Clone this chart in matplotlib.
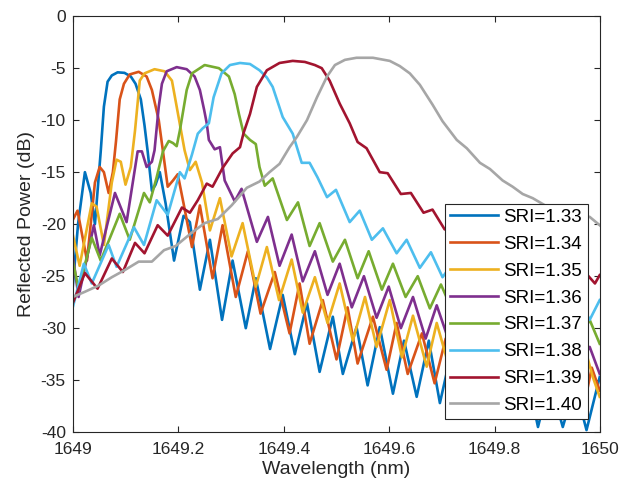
import numpy as np
import matplotlib
matplotlib.use('Agg')
import matplotlib.pyplot as plt

plt.rcParams['font.family'] = ['Liberation Sans', 'DejaVu Sans']
plt.rcParams['axes.unicode_minus'] = False

BASE = 1649.0  # wavelength offsets below are in nm above 1649

# SRI = 1.33
wl_133 = [0.000, 0.010, 0.023, 0.034, 0.042, 0.053, 0.059, 0.066, 0.074, 0.085,
          0.098, 0.110, 0.119, 0.129, 0.136, 0.142, 0.150, 0.157, 0.165, 0.176,
          0.192, 0.210, 0.222, 0.241, 0.260, 0.283, 0.303, 0.328, 0.347, 0.374,
          0.398, 0.421, 0.444, 0.468, 0.493, 0.512, 0.538, 0.559, 0.582, 0.607,
          0.628, 0.652, 0.675, 0.696, 0.719, 0.743, 0.766, 0.791, 0.813, 0.836,
          0.859, 0.882, 0.904, 0.929, 0.952, 0.974, 0.999]
db_133 = [-26, -20, -15, -17, -20, -13, -8.7, -6.3, -5.7, -5.4,
          -5.45, -5.8, -6.5, -8, -10.5, -13, -16.8, -16.2, -15, -18,
          -23.5, -19.2, -19.8, -26.3, -21.5, -29.2, -23.5, -30, -25.2, -32,
          -26.8, -32.5, -27.6, -34.2, -28.9, -34.4, -29.9, -35.5, -29.9, -36.3,
          -31.2, -36.6, -31.2, -37.2, -32, -37.8, -33, -38.5, -33.5, -38.6,
          -34, -39.5, -35, -39.5, -35.5, -39.8, -34.7]

# SRI = 1.34
wl_134 = [0.000, 0.009, 0.027, 0.042, 0.051, 0.059, 0.068, 0.076, 0.082, 0.089,
          0.097, 0.108, 0.125, 0.140, 0.150, 0.163, 0.171, 0.180, 0.190, 0.199,
          0.210, 0.226, 0.241, 0.265, 0.284, 0.309, 0.332, 0.356, 0.383, 0.411,
          0.430, 0.449, 0.474, 0.500, 0.521, 0.540, 0.569, 0.595, 0.614, 0.635,
          0.662, 0.686, 0.707, 0.734, 0.756, 0.781, 0.804, 0.828, 0.851, 0.876,
          0.899, 0.923, 0.946, 0.969, 0.984, 0.999]
db_134 = [-19.6, -18.7, -23.5, -16, -14.5, -15, -17, -15, -12, -8,
          -6.5, -5.6, -5.35, -5.8, -7.1, -10, -13, -16.4, -15.8, -15.2,
          -18, -22.2, -18.2, -25.2, -20.1, -27, -22.6, -28.6, -24.6, -30.5,
          -25.7, -31.5, -27.3, -33, -28, -33.4, -28.9, -34, -29.5, -34.4,
          -30.5, -35.3, -31, -35.8, -31.5, -36.2, -32, -36.5, -32.5, -37,
          -33, -37.5, -33.5, -37.5, -33.8, -36]

# SRI = 1.35
wl_135 = [0.000, 0.013, 0.036, 0.045, 0.059, 0.074, 0.083, 0.091, 0.100, 0.110,
          0.118, 0.127, 0.136, 0.155, 0.174, 0.188, 0.197, 0.212, 0.222, 0.233,
          0.245, 0.260, 0.279, 0.301, 0.322, 0.347, 0.368, 0.391, 0.415, 0.436,
          0.459, 0.483, 0.506, 0.531, 0.554, 0.576, 0.601, 0.624, 0.645, 0.671,
          0.690, 0.715, 0.737, 0.762, 0.785, 0.809, 0.832, 0.857, 0.880, 0.904,
          0.927, 0.952, 0.974, 0.986, 0.999]
db_135 = [-21, -24, -18, -18.3, -22, -16, -13.8, -14, -16.2, -14.5,
          -11, -6.2, -5.5, -5.1, -5.3, -6.2, -8.7, -12.9, -14.8, -14,
          -16, -20.6, -17.5, -23.1, -19.9, -26, -22.2, -27.3, -23.4, -28.5,
          -25.1, -29.5, -25.7, -31.2, -27, -31.8, -27.3, -32.8, -28.8, -33.7,
          -29.5, -34, -30, -34.5, -30.5, -35, -31, -35.5, -31.5, -36,
          -32, -36.2, -32.5, -34.7, -36.6]

# SRI = 1.36
wl_136 = [0.000, 0.011, 0.040, 0.051, 0.080, 0.102, 0.123, 0.131, 0.140, 0.150,
          0.155, 0.163, 0.169, 0.178, 0.197, 0.216, 0.231, 0.241, 0.249, 0.254,
          0.258, 0.269, 0.279, 0.288, 0.307, 0.320, 0.349, 0.370, 0.392, 0.415,
          0.436, 0.459, 0.483, 0.506, 0.529, 0.552, 0.576, 0.599, 0.622, 0.645,
          0.669, 0.690, 0.715, 0.737, 0.762, 0.785, 0.809, 0.832, 0.857, 0.880,
          0.904, 0.927, 0.952, 0.980, 0.999]
db_136 = [-23, -27, -20.1, -23, -17, -19.8, -13, -13, -14.5, -14,
          -12.9, -8.7, -6.5, -5.3, -4.9, -5.1, -5.8, -7.1, -9, -10.3,
          -11.9, -12.8, -12.6, -15.8, -17.8, -16.6, -21.7, -19.3, -24, -21,
          -25.5, -22.6, -26.8, -23.8, -28, -25, -29, -26, -30, -27,
          -31, -27.8, -31.5, -28.3, -32, -28.8, -32.5, -29.3, -33, -29.8,
          -33.5, -30.3, -34, -31.8, -34.4]

# SRI = 1.37
wl_137 = [0.000, 0.011, 0.036, 0.053, 0.089, 0.108, 0.135, 0.146, 0.159, 0.171,
          0.182, 0.190, 0.197, 0.203, 0.216, 0.226, 0.250, 0.277, 0.296, 0.307,
          0.315, 0.324, 0.336, 0.347, 0.354, 0.364, 0.379, 0.406, 0.427, 0.449,
          0.468, 0.493, 0.516, 0.540, 0.561, 0.586, 0.607, 0.631, 0.654, 0.677,
          0.698, 0.724, 0.747, 0.772, 0.794, 0.819, 0.842, 0.866, 0.889, 0.914,
          0.936, 0.961, 0.980, 0.999]
db_137 = [-23.5, -26.3, -21.3, -23.5, -19, -21.5, -17, -17.9, -15.5, -13,
          -12, -12.2, -12.5, -11, -7.1, -5.5, -4.7, -5, -5.8, -7.5,
          -9.4, -11.3, -11.9, -12.3, -14.5, -16.3, -15.6, -19.6, -17.9, -22.1,
          -19.9, -23.6, -21.5, -25.2, -22.6, -26.3, -23.8, -27, -25, -28.1,
          -25.8, -28.8, -26.3, -29.3, -26.8, -29.8, -27.3, -30.3, -27.8, -30.8,
          -28.3, -31, -29.2, -31.5]

# SRI = 1.38
wl_138 = [0.000, 0.021, 0.036, 0.068, 0.083, 0.116, 0.135, 0.159, 0.180, 0.203,
          0.212, 0.226, 0.237, 0.246, 0.258, 0.267, 0.282, 0.298, 0.317, 0.336,
          0.354, 0.368, 0.379, 0.398, 0.417, 0.434, 0.449, 0.464, 0.482, 0.499,
          0.525, 0.544, 0.567, 0.588, 0.614, 0.633, 0.658, 0.679, 0.701, 0.724,
          0.749, 0.772, 0.796, 0.819, 0.844, 0.866, 0.891, 0.914, 0.938, 0.961,
          0.980, 0.999]
db_138 = [-28, -23.8, -25.7, -22, -24.1, -20.3, -22, -17.7, -19.1, -15,
          -15.6, -13.3, -11.3, -10.8, -10.3, -7.8, -5.5, -4.7, -4.5, -4.6,
          -5.2, -5.9, -6.8, -9.7, -11.3, -14.1, -14.1, -15.5, -17.4, -16.7,
          -19.8, -18.7, -21.5, -20.4, -22.8, -21.5, -24.2, -22.7, -25.1, -23.5,
          -26, -24.3, -26.8, -25, -27.5, -25.8, -28.3, -26.5, -29, -27.3,
          -29.2, -27.3]

# SRI = 1.39
wl_139 = [0.000, 0.023, 0.047, 0.074, 0.095, 0.118, 0.136, 0.161, 0.180, 0.207,
          0.222, 0.237, 0.254, 0.265, 0.284, 0.303, 0.317, 0.324, 0.336, 0.349,
          0.368, 0.392, 0.417, 0.440, 0.459, 0.472, 0.487, 0.506, 0.525, 0.540,
          0.557, 0.582, 0.597, 0.622, 0.641, 0.665, 0.682, 0.705, 0.728, 0.753,
          0.775, 0.800, 0.823, 0.847, 0.870, 0.895, 0.918, 0.942, 0.961, 0.976,
          0.990, 0.999]
db_139 = [-27.6, -24.7, -26.2, -23.3, -24.6, -21.8, -22.8, -20.1, -21.1, -18.4,
          -18.9, -17.7, -16.1, -16.4, -14.6, -13.2, -12.6, -11.2, -9.4, -6.8,
          -5.2, -4.5, -4.3, -4.4, -4.7, -5, -6.2, -8.4, -10.3, -12.1,
          -12.7, -15, -15.1, -17.1, -17, -18.9, -18.6, -20.5, -20.3, -22,
          -21.8, -23, -22.8, -24, -23.6, -24.5, -24.2, -25, -24.6, -24.9,
          -25.7, -24.9]

# SRI = 1.40
wl_140 = [0.000, 0.023, 0.049, 0.074, 0.099, 0.125, 0.150, 0.173, 0.195, 0.226,
          0.250, 0.275, 0.301, 0.330, 0.354, 0.373, 0.392, 0.411, 0.425, 0.444,
          0.463, 0.482, 0.497, 0.516, 0.538, 0.569, 0.601, 0.620, 0.639, 0.658,
          0.682, 0.701, 0.728, 0.747, 0.772, 0.791, 0.815, 0.834, 0.853, 0.872,
          0.899, 0.923, 0.952, 0.980, 0.999]
db_140 = [-27, -26.5, -25.9, -25.1, -24.4, -23.6, -23.6, -22.5, -22.1, -20.8,
          -19.9, -19.5, -18.2, -16.5, -15.9, -15, -14.2, -12.6, -11.6, -10,
          -7.8, -5.8, -4.7, -4.2, -4.0, -4.0, -4.3, -4.8, -5.5, -6.6,
          -8.5, -10.1, -11.9, -12.7, -14.1, -14.7, -15.8, -16.4, -17.1, -17.5,
          -18.3, -18.7, -19, -19.3, -20.1]

labels = ['SRI=1.33', 'SRI=1.34', 'SRI=1.35', 'SRI=1.36',
          'SRI=1.37', 'SRI=1.38', 'SRI=1.39', 'SRI=1.40']
colors = ['#0072BD', '#D95319', '#EDB120', '#7E2F8E',
          '#77AC30', '#4DBEEE', '#A2142F', '#A6A6A6']
series = [(wl_133, db_133), (wl_134, db_134), (wl_135, db_135), (wl_136, db_136),
          (wl_137, db_137), (wl_138, db_138), (wl_139, db_139), (wl_140, db_140)]

fig = plt.figure(figsize=(6.22, 4.90), dpi=100)
ax = fig.add_axes([0.117, 0.118, 0.848, 0.849])

for (wl, db), lab, c in zip(series, labels, colors):
    ax.plot(BASE + np.array(wl), db, color=c, lw=1.9, label=lab,
            solid_joinstyle='round')

ax.set_xlim(1649, 1650)
ax.set_ylim(-40, 0)
ax.set_xticks([1649, 1649.2, 1649.4, 1649.6, 1649.8, 1650])
ax.set_xticklabels(['1649', '1649.2', '1649.4', '1649.6', '1649.8', '1650'])
ax.set_yticks(np.arange(-40, 1, 5))
ax.tick_params(direction='in', top=True, right=True, length=4,
               labelsize=12.5, color='#262626', labelcolor='#262626')
ax.tick_params(axis='x', pad=7)
ax.tick_params(axis='y', pad=5)
for s in ax.spines.values():
    s.set_color('#262626')
    s.set_linewidth(0.8)
ax.set_xlabel('Wavelength (nm)', fontsize=14, color='#262626', labelpad=3)
ax.set_ylabel('Reflected Power (dB)', fontsize=14, color='#262626', labelpad=4)

leg = ax.legend(loc='lower right', bbox_to_anchor=(0.976, 0.031), borderaxespad=0,
                fontsize=13.5, handlelength=2.55, handletextpad=0.3,
                labelspacing=0.52, fancybox=False, framealpha=1,
                edgecolor='#262626', borderpad=0.28)
leg.get_frame().set_linewidth(0.8)

fig.savefig('out.png', dpi=100)
